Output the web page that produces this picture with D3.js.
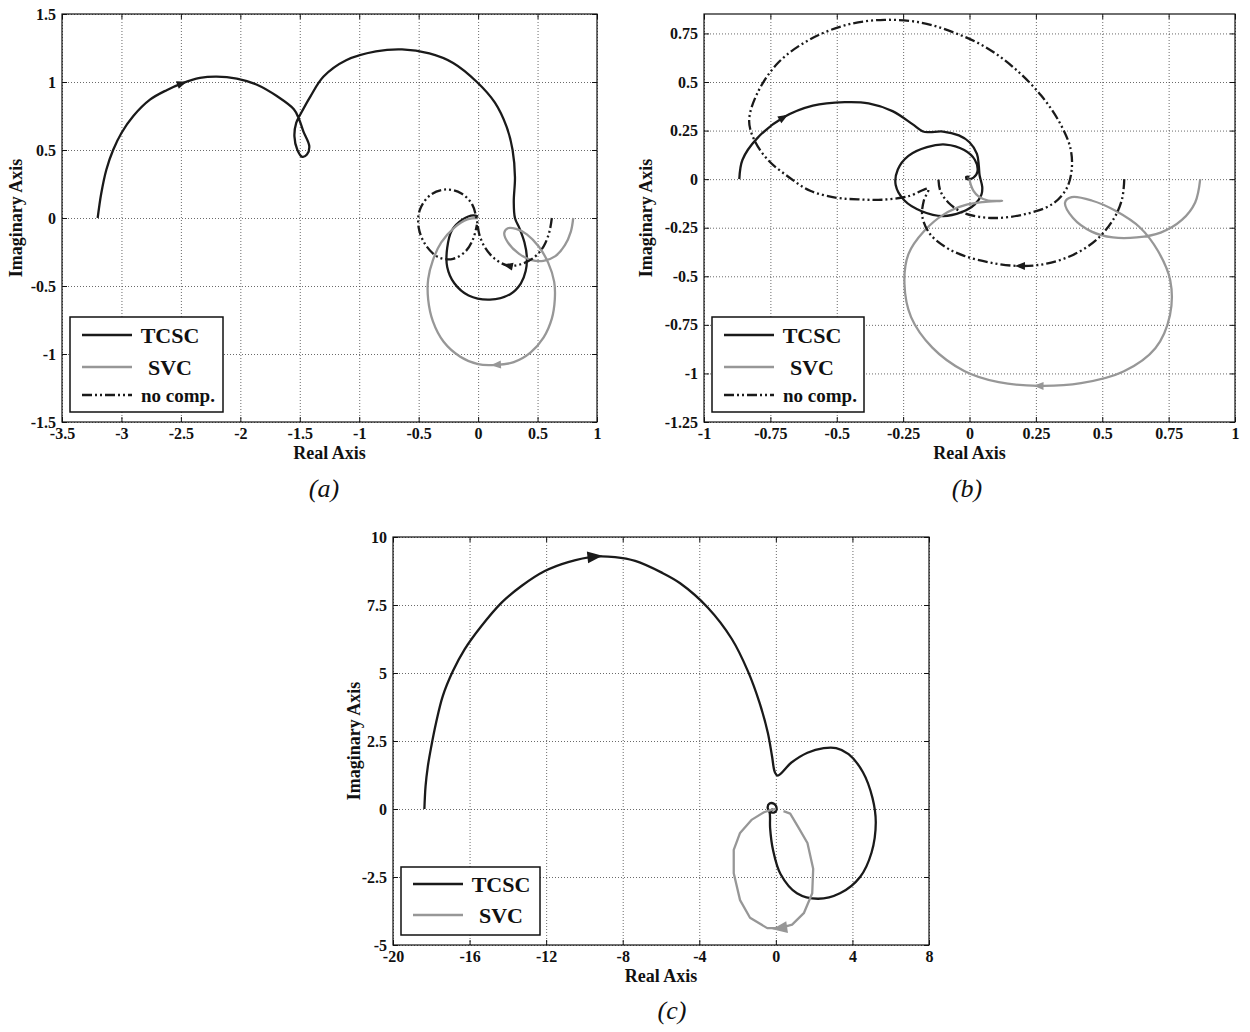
<!DOCTYPE html>
<html>
<head>
<meta charset="utf-8">
<script src="https://cdn.jsdelivr.net/npm/d3@7"></script>
<style>
body { margin: 0; background: #fff; }
text { font-family: "Liberation Serif", "Times New Roman", serif; font-weight: bold; fill: #111; }
</style>
</head>
<body>
<div id="chart"></div>
<script>
// ---- panel (a) ----
var xTicksA = [-3.5, -3, -2.5, -2, -1.5, -1, -0.5, 0, 0.5, 1];
var yTicksA = [-1.5, -1, -0.5, 0, 0.5, 1, 1.5];
var tcscA = [[-3.2,0],[-3.17,0.18],[-3.127,0.355],[-3.07,0.5],[-3.0,0.625],[-2.9,0.75],[-2.76,0.87],[-2.62,0.94],
  [-2.49,0.99],[-2.34,1.03],[-2.2,1.04],[-2.03,1.025],[-1.86,0.98],[-1.69,0.895],[-1.55,0.8],[-1.51,0.735],
  [-1.47,0.637],[-1.42,0.527],[-1.44,0.466],[-1.48,0.45],[-1.52,0.5],[-1.545,0.6],[-1.53,0.7],[-1.49,0.77],
  [-1.41,0.895],[-1.3,1.04],[-1.11,1.16],[-0.86,1.225],
  [-0.64,1.24],[-0.41,1.21],[-0.21,1.14],[-0.01,1.0],[0.14,0.85],[0.24,0.67],[0.29,0.5],[0.31,0.3],[0.3,0.12],
  [0.31,0.0],[0.35,-0.08],[0.39,-0.18],[0.41,-0.29],[0.4,-0.39],[0.36,-0.48],[0.27,-0.56],[0.1,-0.6],
  [-0.08,-0.57],[-0.2,-0.48],[-0.26,-0.36],[-0.26,-0.22],[-0.22,-0.09],[-0.13,-0.01],[-0.04,0.02],[0,0.01]];
var svcA = [[0.8,0],[0.78,-0.1],[0.73,-0.2],[0.65,-0.28],[0.55,-0.315],[0.45,-0.31],[0.34,-0.26],[0.25,-0.18],
  [0.22,-0.11],[0.25,-0.075],[0.32,-0.08],[0.41,-0.12],[0.51,-0.21],[0.59,-0.33],[0.64,-0.47],[0.645,-0.6],
  [0.62,-0.74],[0.55,-0.88],[0.44,-0.99],[0.3,-1.06],[0.15,-1.08],[0.0,-1.075],[-0.15,-1.02],[-0.29,-0.91],
  [-0.38,-0.76],[-0.42,-0.6],[-0.42,-0.45],[-0.38,-0.31],[-0.31,-0.18],[-0.2,-0.07],[-0.09,-0.01],[0,0]];
var noCompA = [[0.62,0],[0.6,-0.1],[0.55,-0.21],[0.47,-0.29],[0.36,-0.34],[0.25,-0.35],[0.14,-0.3],[0.06,-0.22],
  [0.01,-0.12],[-0.01,-0.02],[-0.05,0.1],[-0.14,0.18],[-0.27,0.21],[-0.4,0.17],[-0.49,0.06],[-0.5,-0.07],
  [-0.44,-0.2],[-0.33,-0.29],[-0.21,-0.3],[-0.1,-0.24],[-0.04,-0.15],[-0.01,-0.05]];

// ---- panel (b) ----
var xTicksB = [-1, -0.75, -0.5, -0.25, 0, 0.25, 0.5, 0.75, 1];
var yTicksB = [-1.25, -1, -0.75, -0.5, -0.25, 0, 0.25, 0.5, 0.75];
var tcscB = [[-0.867,0],[-0.855,0.1],[-0.8,0.21],[-0.7,0.318],[-0.59,0.378],[-0.47,0.396],[-0.38,0.39],
  [-0.29,0.35],[-0.215,0.283],[-0.175,0.245],[-0.15,0.242],[-0.1,0.245],[-0.04,0.225],[0.0,0.19],[0.028,0.13],
  [0.035,0.07],[0.038,0.02],[0.048,-0.04],[0.045,-0.08],[0.02,-0.13],[-0.03,-0.17],[-0.1,-0.19],[-0.18,-0.165],
  [-0.245,-0.11],[-0.278,-0.03],[-0.27,0.05],[-0.23,0.12],[-0.16,0.165],[-0.09,0.178],[-0.02,0.15],[0.02,0.1],
  [0.03,0.04],[0.015,0.008],[-0.01,0.0],[-0.012,0.012],[0.0,0.012]];
var svcB = [[0.869,0],[0.85,-0.12],[0.8,-0.21],[0.72,-0.275],[0.63,-0.3],[0.54,-0.3],[0.46,-0.27],[0.39,-0.2],
  [0.36,-0.12],[0.385,-0.093],[0.46,-0.11],[0.55,-0.163],[0.643,-0.25],[0.71,-0.37],[0.756,-0.52],[0.755,-0.7],
  [0.7,-0.87],[0.58,-0.99],[0.42,-1.05],[0.26,-1.064],[0.11,-1.045],[-0.02,-0.987],[-0.14,-0.867],[-0.22,-0.71],
  [-0.245,-0.54],[-0.23,-0.386],[-0.17,-0.266],[-0.095,-0.18],[-0.02,-0.135],[0.05,-0.118],[0.123,-0.112],
  [0.07,-0.11],[0.035,-0.09],[0.015,-0.06],[0.005,-0.03],[0,0]];
var noCompB = [[0.583,0],[0.575,-0.1],[0.545,-0.2],[0.48,-0.31],[0.39,-0.39],[0.29,-0.435],[0.19,-0.447],
  [0.08,-0.43],[-0.02,-0.395],[-0.09,-0.35],[-0.15,-0.28],[-0.178,-0.19],[-0.172,-0.11],[-0.155,-0.05],
  [-0.23,-0.088],[-0.33,-0.106],[-0.42,-0.104],[-0.5,-0.096],[-0.6,-0.06],[-0.68,0.01],[-0.76,0.1],[-0.81,0.2],
  [-0.83,0.3],[-0.8,0.44],[-0.72,0.6],[-0.6,0.72],[-0.46,0.795],[-0.32,0.82],[-0.18,0.805],[-0.06,0.755],
  [0.06,0.68],[0.17,0.57],[0.27,0.43],[0.34,0.29],[0.38,0.16],[0.385,0.05],[0.365,-0.05],[0.31,-0.13],
  [0.21,-0.18],[0.09,-0.2],[-0.02,-0.175],[-0.08,-0.12],[-0.11,-0.06],[-0.117,0.0]];

// ---- panel (c) ----
var xTicksC = [-20, -16, -12, -8, -4, 0, 4, 8];
var yTicksC = [-5, -2.5, 0, 2.5, 5, 7.5, 10];
var tcscC = [[-18.36,0],[-18.3,0.83],[-18.18,1.57],[-18.0,2.3],[-17.75,3.17],[-17.4,4.15],[-16.87,5.07],
  [-16.26,5.87],[-15.39,6.72],[-14.34,7.58],[-13.29,8.2],[-12.07,8.75],[-10.85,9.08],[-9.45,9.28],[-8.4,9.26],
  [-7.35,9.12],[-5.96,8.69],[-5.0,8.3],[-3.55,7.4],[-2.3,6.25],[-1.45,5.05],
  [-0.85,3.9],[-0.42,2.8],[-0.2,1.94],[-0.05,1.35],[0.1,1.23],[0.8,1.7],[1.65,2.07],[2.5,2.24],[3.15,2.24],
  [3.8,2.02],[4.55,1.35],[5.05,0.4],[5.22,-0.5],[5.0,-1.6],[4.4,-2.5],[3.35,-3.1],[2.2,-3.3],[1.1,-3.1],
  [0.25,-2.4],[-0.15,-1.5],[-0.3,-0.7],[-0.32,-0.15],[-0.43,0.06],[-0.33,0.2],[-0.1,0.19],[0.04,0.02],
  [-0.08,-0.13],[-0.3,-0.1],[-0.15,0.0]];
var svcC = [[0.4,-0.08],[0.75,-0.17],[1.2,-0.7],[1.65,-1.25],[1.95,-2.2],[1.9,-3.1],[1.46,-3.83],[0.85,-4.25],
  [0.2,-4.38],[-0.45,-4.38],[-1.35,-4.0],[-1.87,-3.35],[-2.2,-2.36],[-2.2,-1.5],[-1.87,-0.88],[-1.25,-0.39],
  [-0.62,-0.12],[-0.2,-0.02],[0,0]];

var black = "#1a1a1a";
var grey = "#979797";
var dashNoComp = "10,3,2,3,2,3";

var svg = d3.select("#chart")
  .append("svg")
  .attr("width", 1250)
  .attr("height", 1032);

function fmt(d) { return String(d); }

function drawPanel(p) {
  var g = svg.append("g");
  var x = d3.scaleLinear().domain(p.xDomain).range([p.left, p.right]);
  var y = d3.scaleLinear().domain(p.yDomain).range([p.bottom, p.top]);
  var w = p.right - p.left, h = p.bottom - p.top;

  // dotted grid
  g.append("g").attr("transform", `translate(0, ${p.bottom})`)
    .call(d3.axisBottom(x).tickValues(p.xTicks).tickSize(-h).tickFormat(""))
    .call(s => s.select(".domain").remove())
    .selectAll("line").attr("stroke", "#444").attr("stroke-width", 0.8).attr("stroke-dasharray", "1,2");
  g.append("g").attr("transform", `translate(${p.left}, 0)`)
    .call(d3.axisLeft(y).tickValues(p.yTicks).tickSize(-w).tickFormat(""))
    .call(s => s.select(".domain").remove())
    .selectAll("line").attr("stroke", "#444").attr("stroke-width", 0.8).attr("stroke-dasharray", "1,2");

  // axes with inward ticks
  var ax = [
    g.append("g").attr("transform", `translate(0, ${p.bottom})`)
      .call(d3.axisBottom(x).tickValues(p.xTicks).tickSize(-5).tickPadding(6).tickFormat(fmt)),
    g.append("g").attr("transform", `translate(${p.left}, 0)`)
      .call(d3.axisLeft(y).tickValues(p.yTicks).tickSize(-5).tickPadding(6).tickFormat(fmt)),
    g.append("g").attr("transform", `translate(0, ${p.top})`)
      .call(d3.axisTop(x).tickValues(p.xTicks).tickSize(-5).tickFormat("")),
    g.append("g").attr("transform", `translate(${p.right}, 0)`)
      .call(d3.axisRight(y).tickValues(p.yTicks).tickSize(-5).tickFormat(""))
  ];
  ax.forEach(function(a) {
    a.select(".domain").remove();
    a.selectAll("line").attr("stroke", "#111").attr("stroke-width", 1);
    a.selectAll("text").attr("font-size", "16px").attr("font-family", "Liberation Serif, serif")
      .attr("font-weight", "bold").attr("fill", "#111");
  });

  g.append("rect").attr("x", p.left).attr("y", p.top).attr("width", w).attr("height", h)
    .attr("fill", "none").attr("stroke", "#111").attr("stroke-width", 1.2);

  // curves
  var clipId = "clip" + p.name;
  svg.append("clipPath").attr("id", clipId).append("rect")
    .attr("x", p.left).attr("y", p.top).attr("width", w).attr("height", h);
  var curves = g.append("g").attr("clip-path", `url(#${clipId})`);

  p.series.forEach(function(s) {
    var line = d3.line()
      .x(d => x(d[0])).y(d => y(d[1]))
      .curve(s.linear ? d3.curveLinear : d3.curveCatmullRom.alpha(0.5));
    curves.append("path")
      .datum(s.data)
      .attr("d", line)
      .attr("fill", "none")
      .attr("stroke", s.color)
      .attr("stroke-width", 2.3)
      .attr("stroke-linejoin", "round")
      .attr("stroke-dasharray", s.dash || null);

    if (s.arrowAt) {
      // orient the arrow along the curve near the given point
      var best = 1, bd = Infinity;
      s.data.forEach(function(d, i) {
        if (i == 0 || i == s.data.length - 1) return;
        var dd = Math.pow(d[0] - s.arrowAt[0], 2) + Math.pow(d[1] - s.arrowAt[1], 2);
        if (dd < bd) { bd = dd; best = i; }
      });
      var a = s.data[best - 1], b = s.data[best + 1];
      var ang = Math.atan2(y(b[1]) - y(a[1]), x(b[0]) - x(a[0]));
      var cx = x(s.arrowAt[0]), cy = y(s.arrowAt[1]);
      var L = p.arrowSize[0], W = p.arrowSize[1] / 2;
      var c = Math.cos(ang), sn = Math.sin(ang);
      var pts = [
        [cx + c * L / 2, cy + sn * L / 2],
        [cx - c * L / 2 - sn * W, cy - sn * L / 2 + c * W],
        [cx - c * L / 2 + sn * W, cy - sn * L / 2 - c * W]
      ];
      curves.append("path").attr("d", "M" + pts.join("L") + "Z").attr("fill", s.color);
    }
  });

  // legend
  var lg = g.append("g").attr("transform", `translate(${p.left + 8}, ${p.bottom - p.legendH - 10})`);
  lg.append("rect").attr("width", p.legendW).attr("height", p.legendH)
    .attr("fill", "#fff").attr("stroke", "#111").attr("stroke-width", 1.5);
  p.series.forEach(function(s, i) {
    var ly = p.legendRows[i];
    lg.append("line").attr("x1", 12).attr("x2", 62).attr("y1", ly).attr("y2", ly)
      .attr("stroke", s.color).attr("stroke-width", 2.4).attr("stroke-dasharray", s.dash || null);
    lg.append("text").attr("x", s.dash ? 108 : 100).attr("y", ly).attr("dy", "0.35em")
      .attr("text-anchor", "middle")
      .attr("font-size", s.dash ? "19px" : "22px")
      .text(s.label);
  });

  // axis labels and caption
  g.append("text").attr("x", (p.left + p.right) / 2).attr("y", p.bottom + 37)
    .attr("text-anchor", "middle").attr("font-size", "18px").text("Real Axis");
  g.append("text")
    .attr("transform", `translate(${p.left - p.ylabOff}, ${(p.top + p.bottom) / 2}) rotate(-90)`)
    .attr("dy", "0.35em").attr("text-anchor", "middle").attr("font-size", "18px").text("Imaginary Axis");
  g.append("text").attr("x", p.capX).attr("y", p.capY)
    .attr("text-anchor", "middle").attr("font-size", "26px")
    .style("font-weight", "normal").style("font-style", "italic").text(p.caption);
}

drawPanel({
  name: "A", left: 62, right: 597, top: 14, bottom: 422,
  xDomain: [-3.5, 1], yDomain: [-1.5, 1.5], xTicks: xTicksA, yTicks: yTicksA,
  arrowSize: [10, 8],
  series: [
    { label: "TCSC", data: tcscA, color: black, arrowAt: [-2.49, 0.99] },
    { label: "SVC", data: svcA, color: grey, arrowAt: [0.15, -1.08] },
    { label: "no comp.", data: noCompA, color: black, dash: dashNoComp, arrowAt: [0.25, -0.35] }
  ],
  legendW: 153, legendH: 95, legendRows: [18, 50, 78],
  ylabOff: 46, caption: "(a)", capX: 324, capY: 497
});

drawPanel({
  name: "B", left: 704, right: 1235, top: 14, bottom: 422,
  xDomain: [-1, 1], yDomain: [-1.25, 0.85], xTicks: xTicksB, yTicks: yTicksB,
  arrowSize: [10, 8],
  series: [
    { label: "TCSC", data: tcscB, color: black, arrowAt: [-0.7, 0.318] },
    { label: "SVC", data: svcB, color: grey, arrowAt: [0.26, -1.064] },
    { label: "no comp.", data: noCompB, color: black, dash: dashNoComp, arrowAt: [0.19, -0.447] }
  ],
  legendW: 152, legendH: 95, legendRows: [18, 50, 78],
  ylabOff: 58, caption: "(b)", capX: 967, capY: 497
});

drawPanel({
  name: "C", left: 393, right: 929, top: 537, bottom: 945,
  xDomain: [-20, 8], yDomain: [-5, 10], xTicks: xTicksC, yTicks: yTicksC,
  arrowSize: [15, 12],
  series: [
    { label: "TCSC", data: tcscC, color: black, arrowAt: [-9.45, 9.28] },
    { label: "SVC", data: svcC, color: grey, linear: true, arrowAt: [0.2, -4.38] }
  ],
  legendW: 139, legendH: 68, legendRows: [17, 48],
  ylabOff: 39, caption: "(c)", capX: 672, capY: 1019
});
</script>
</body>
</html>
